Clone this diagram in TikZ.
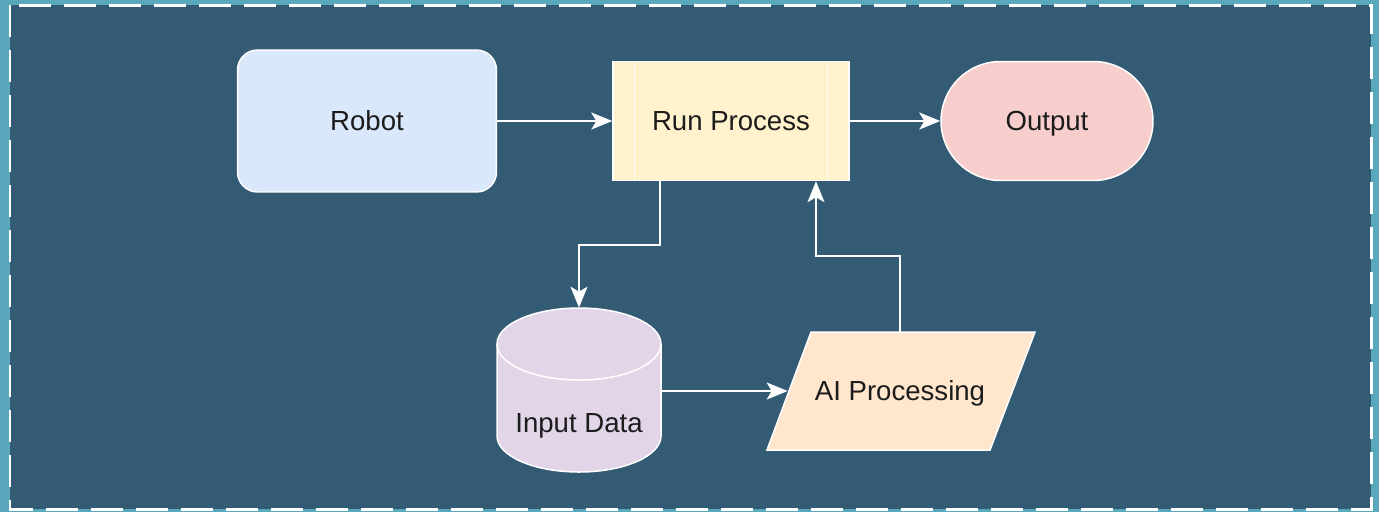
\documentclass[tikz,border=0pt]{standalone}
\usepackage{fontspec}
\setmainfont{Liberation Sans}
\usetikzlibrary{arrows.meta}

\definecolor{bgdark}{HTML}{345B74}
\definecolor{bgedge}{HTML}{5AA8BC}
\definecolor{robotfill}{HTML}{DAE8FC}
\definecolor{procfill}{HTML}{FFF2CC}
\definecolor{outfill}{HTML}{F8CECC}
\definecolor{datafill}{HTML}{E1D5E7}
\definecolor{aifill}{HTML}{FFE6CC}
\definecolor{textdark}{HTML}{1C1C1C}

\tikzset{
  label/.style={text=textdark, inner sep=0pt, text height=11.2pt, text depth=0pt,
    font=\fontsize{15.7}{19}\selectfont},
  box/.style={label, draw=white, line width=0.85pt},
  robotbox/.style={box, fill=robotfill, rounded corners=0.4cm,
    minimum width=5.18cm, minimum height=2.84cm},
  procbox/.style={box, fill=procfill, minimum width=4.72cm, minimum height=2.38cm},
  outbox/.style={box, fill=outfill, rounded corners=1.19cm,
    minimum width=4.24cm, minimum height=2.38cm},
  flow/.style={draw=white, line width=1.1pt, -{Stealth[length=0.42cm,width=0.34cm,inset=0.1cm]}}
}

\begin{document}
\begin{tikzpicture}[x=0.02cm,y=0.02cm]
  % background
  \fill[bgedge] (0,0) rectangle (1379,-512);
  \useasboundingbox (0,0) rectangle (1379,-512);
  \filldraw[fill=bgdark, draw=white, line width=1.7pt, dash pattern=on 0.64cm off 0.26cm]
    (10,-5) rectangle (1371,-509);

  % nodes
  \node[robotbox] (robot) at (367,-121) {Robot};
  \node[procbox] (proc) at (731,-121) {Run Process};
  \draw[white, line width=0.5pt] ([xshift=0.44cm]proc.north west) -- ([xshift=0.44cm]proc.south west);
  \draw[white, line width=0.5pt] ([xshift=-0.44cm]proc.north east) -- ([xshift=-0.44cm]proc.south east);
  \node[outbox] (out) at (1047,-121) {Output};

  % cylinder
  \filldraw[fill=datafill, draw=white, line width=0.85pt]
    (497,-344) -- (497,-436) arc[start angle=180, end angle=360, x radius=82, y radius=36]
    -- (661,-344) arc[start angle=0, end angle=180, x radius=82, y radius=36] -- cycle;
  \draw[white, line width=0.85pt] (497,-344) arc[start angle=180, end angle=360, x radius=82, y radius=36];
  \node[minimum width=3.28cm, minimum height=3.32cm, inner sep=0pt] (data) at (579,-391) {};
  \node[label] (datatext) at (579,-423) {Input Data};

  % parallelogram
  \filldraw[fill=aifill, draw=white, line width=0.85pt]
    (767,-450) -- (811,-332) -- (1035,-332) -- (990,-450) -- cycle;
  \node[label, minimum width=4.48cm, minimum height=2.36cm] (ai) at (900,-391) {AI Processing};

  % connectors
  \draw[flow] (robot) -- (proc);
  \draw[flow] (proc) -- (out);
  \draw[flow] ([xshift=-1.42cm]proc.south) -- ++(0,-64) -| (data.north);
  \draw[flow] (data.east) -- (ai.west);
  \draw[flow] (ai.north) -- ++(0,76) -| ([xshift=1.7cm]proc.south);
\end{tikzpicture}
\end{document}
